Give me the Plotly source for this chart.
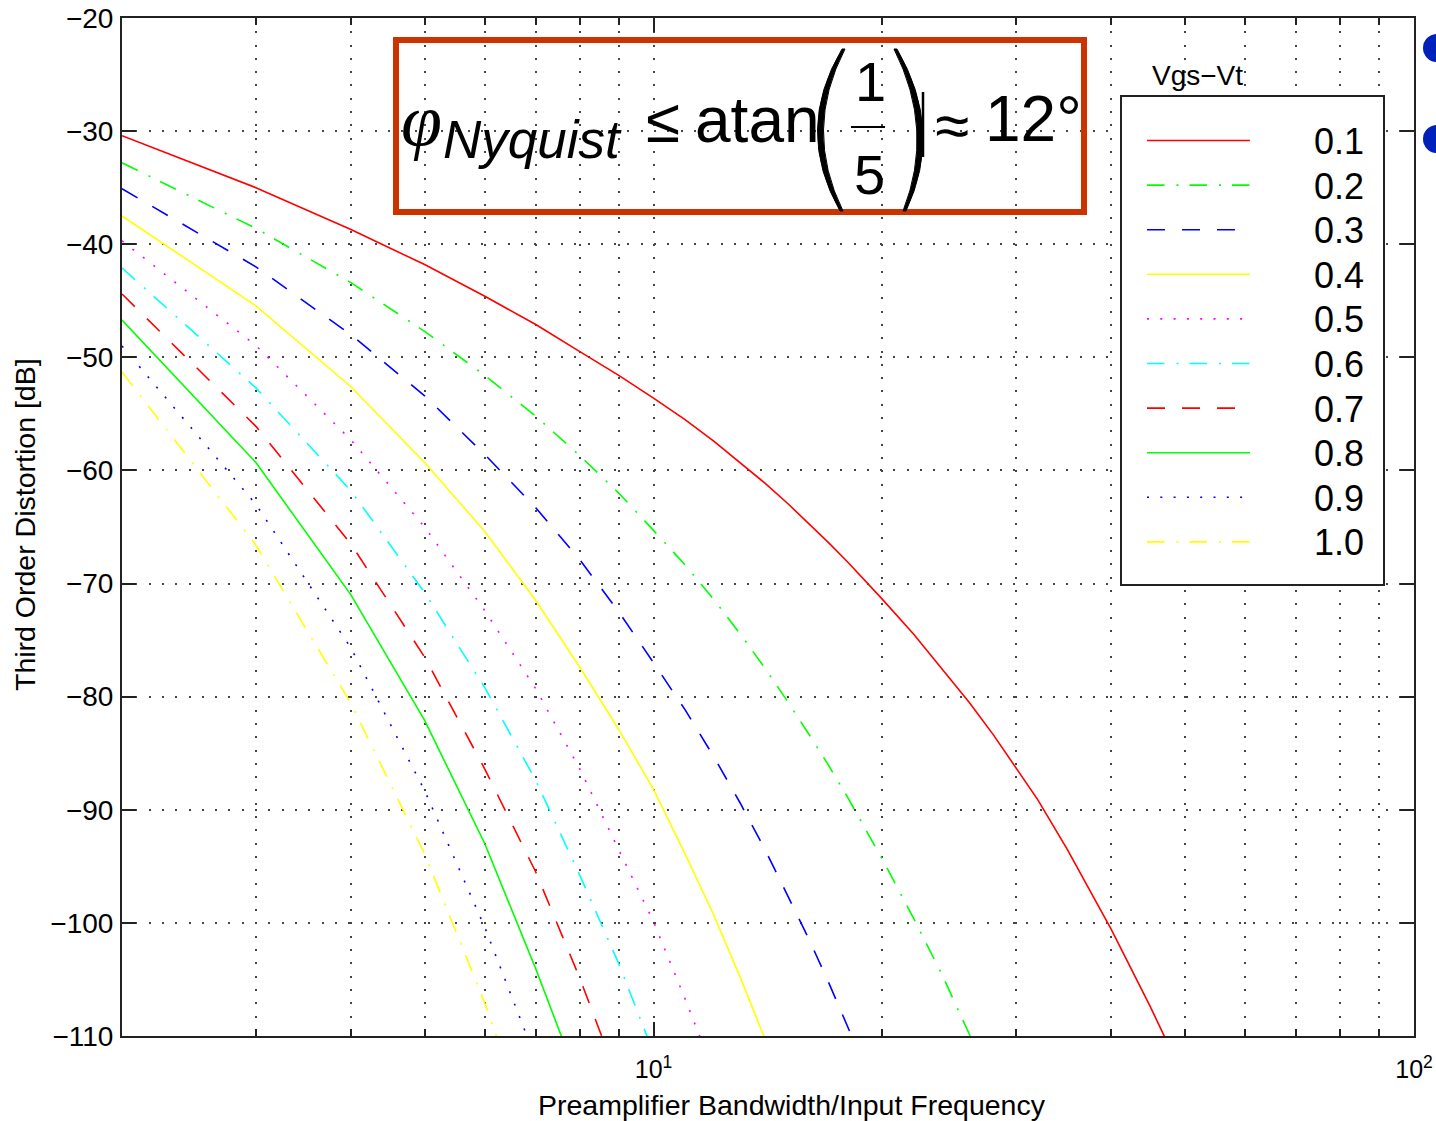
import plotly.graph_objects as go
import math

# ---------------- data ----------------
vgs_labels = ["0.1", "0.2", "0.3", "0.4", "0.5", "0.6", "0.7", "0.8", "0.9", "1.0"]

x_01 = [2, 3, 4, 5, 6, 7, 8, 9, 10, 11, 12, 13, 14, 15, 16, 17, 18, 19, 20,
        22, 24, 26, 28, 30, 32, 35, 40, 45, 50]
thd_01 = [-30.4, -35.0, -38.7, -41.8, -44.6, -47.1, -49.5, -51.6, -53.6,
          -55.5, -57.4, -59.3, -61.1, -62.9, -64.7, -66.4, -68.1, -69.8, -71.4,
          -74.5, -77.6, -80.5, -83.4, -86.3, -89.1, -93.5, -100.6, -107.4, -113.9]

x_02 = [2, 3, 4, 5, 6, 7, 8, 9, 10, 11, 12, 13, 14, 15, 16, 17, 18, 19, 20,
        22, 24, 26, 28]
thd_02 = [-32.8, -38.6, -43.4, -47.7, -51.6, -55.2, -58.7, -62.0, -65.3,
          -68.35, -71.4, -74.45, -77.45, -80.4, -83.3, -86.1, -88.9, -91.7, -94.4,
          -99.65, -104.7, -109.8, -114.5]

x_03 = [2, 3, 4, 5, 6, 7, 8, 9, 10, 11, 12, 13, 14, 15, 16, 17, 18, 19]
thd_03 = [-35.1, -42.0, -48.0, -53.4, -58.6, -63.3, -67.9, -72.5, -77.0,
          -81.15, -85.3, -89.4, -93.45, -97.5, -101.4, -105.3, -109.1, -112.85]

x_04 = [2, 3, 4, 5, 6, 7, 8, 9, 10, 11, 12, 13, 14, 15]
thd_04 = [-37.5, -45.45, -52.6, -59.3, -65.4, -71.5, -77.4, -82.9, -88.2,
          -93.9, -99.3, -104.8, -110.2, -115.3]

x_05 = [2, 3, 4, 5, 6, 7, 8, 9, 10, 11, 12]
thd_05 = [-39.7, -48.95, -57.3, -65.0, -72.4, -79.3, -86.4, -93.45, -99.9,
          -106.7, -113.2]

x_06 = [2, 3, 4, 5, 6, 7, 8, 9, 10]
thd_06 = [-42.1, -52.7, -61.8, -70.8, -79.2, -87.4, -95.8, -103.6, -111.5]

x_07 = [2, 3, 4, 5, 6, 7, 8, 9]
thd_07 = [-44.4, -56.1, -66.5, -76.5, -86.4, -95.5, -104.9, -114.0]

x_08 = [2, 3, 4, 5, 6, 7, 8]
thd_08 = [-46.7, -59.3, -71.0, -82.1, -93.0, -104.05, -114.3]

x_09 = [2, 3, 4, 5, 6, 7]
thd_09 = [-49.0, -63.0, -75.7, -88.3, -100.4, -112.0]

x_10 = [2, 3, 4, 5, 6, 7]
thd_10 = [-51.3, -66.6, -80.6, -93.9, -107.1, -120.0]

xs = [x_01, x_02, x_03, x_04, x_05, x_06, x_07, x_08, x_09, x_10]
series = [thd_01, thd_02, thd_03, thd_04, thd_05, thd_06, thd_07, thd_08, thd_09, thd_10]

x_major_ticks = [10, 100]
x_major_text = ["10<sup>1</sup>", "10<sup>2</sup>"]
x_minor_ticks = [3, 4, 5, 6, 7, 8, 9, 20, 30, 40, 50, 60, 70, 80, 90]

x_title = "Preamplifier Bandwidth/Input Frequency"
y_title = "Third Order Distortion [dB]"
legend_title = "Vgs\u2212Vt"

# ---------------- styles ----------------
colors = ["#FF0000", "#00FF00", "#0000FF", "#FFFF00", "#FF00FF",
          "#00FFFF", "#FF0000", "#00FF00", "#0000FF", "#FFFF00"]
DASH = "18px,17px"
DOT = "2px,11.3px"
DASHDOT = "17.5px,12px,2px,11px"
dashes = ["solid", DASHDOT, DASH, "solid", DOT, DASHDOT, DASH, "solid", DOT, DASHDOT]

FONT = "Liberation Sans, Arial, Helvetica, sans-serif"
W, H = 1436, 1121
L, R, T, B = 122, 1414, 18, 1036


def px(x):
    return (x - L) / (R - L)


def py(y):
    return (B - y) / (B - T)


fig = go.Figure()
for name, xv, ys, c, d in zip(vgs_labels, xs, series, colors, dashes):
    fig.add_trace(go.Scatter(
        x=xv, y=ys, mode="lines", name=name,
        line=dict(color=c, width=1.6, dash=d), showlegend=False,
    ))

grid_dash = "2px,11.3px"
fig.update_xaxes(
    type="log", range=[math.log10(2), 2], automargin=False,
    tickmode="array", tickvals=x_major_ticks, ticktext=x_major_text,
    ticks="inside", ticklen=14, tickwidth=1.5, tickcolor="#222",
    showline=True, linecolor="#222", linewidth=2, mirror="ticks",
    showgrid=True, gridcolor="#444", gridwidth=1.5, griddash=grid_dash,
    minor=dict(tickmode="array", tickvals=x_minor_ticks, ticks="inside", ticklen=7,
               tickwidth=1.5, tickcolor="#222", showgrid=True, gridcolor="#444",
               gridwidth=1.5, griddash=grid_dash),
    tickfont=dict(family=FONT, size=25, color="black"),
    ticklabelstandoff=10,
    zeroline=False,
)
fig.update_yaxes(
    range=[-110, -20], tick0=-20, dtick=10, automargin=False,
    ticks="inside", ticklen=14, tickwidth=1.5, tickcolor="#222",
    showline=True, linecolor="#222", linewidth=2, mirror="ticks",
    showgrid=True, gridcolor="#444", gridwidth=1.5, griddash=grid_dash,
    tickfont=dict(family=FONT, size=28, color="black"),
    ticklabelstandoff=1,
    zeroline=False,
)

shapes = []
annotations = []

# ---- axis titles (placed like the original, slightly off-centre) ----
annotations.append(dict(xref="paper", yref="paper", x=px(792), y=py(1105), text=x_title,
                        showarrow=False, xanchor="center", yanchor="middle",
                        font=dict(family=FONT, size=28.5, color="black")))
annotations.append(dict(xref="paper", yref="paper", x=px(25), y=py(525), text=y_title,
                        showarrow=False, xanchor="center", yanchor="middle", textangle=-90,
                        font=dict(family=FONT, size=28.5, color="black")))

# ---- manual legend ----
shapes.append(dict(type="rect", xref="paper", yref="paper",
                   x0=px(1121), x1=px(1384), y0=py(96), y1=py(585),
                   line=dict(color="#222", width=2), fillcolor="white", layer="above"))
for i, (name, c, d) in enumerate(zip(vgs_labels, colors, dashes)):
    yy = 140.5 + i * 44.6
    shapes.append(dict(type="line", xref="paper", yref="paper",
                       x0=px(1147), x1=px(1250), y0=py(yy), y1=py(yy),
                       line=dict(color=c, width=1.6, dash=d), layer="above"))
    annotations.append(dict(xref="paper", yref="paper", x=px(1366), y=py(yy + 1),
                            text=name, showarrow=False, xanchor="right", yanchor="middle",
                            font=dict(family=FONT, size=36, color="black")))
annotations.append(dict(xref="paper", yref="paper", x=px(1197), y=py(76),
                        text=legend_title, showarrow=False, xanchor="center", yanchor="middle",
                        font=dict(family=FONT, size=28, color="black")))

# ---- formula box ----
shapes.append(dict(type="rect", xref="paper", yref="paper",
                   x0=px(396), x1=px(1084), y0=py(40), y1=py(212),
                   line=dict(color="#CC3300", width=6), layer="above"))


def txt(x, y, s, size, anchor="left", family=FONT):
    annotations.append(dict(xref="paper", yref="paper", x=px(x), y=py(y), text=s,
                            showarrow=False, xanchor=anchor, yanchor="middle",
                            font=dict(family=family, size=size, color="black")))


txt(399, 120, "<i>\u03c6</i>", 74, family="Liberation Serif, Times New Roman, serif")
txt(441, 139, "<i>Nyquist</i>", 53)
txt(663, 120, "\u2264", 62, anchor="center")
txt(693, 120, "atan", 64)
txt(870, 81, "1", 56, anchor="center")
txt(869, 174, "5", 56, anchor="center")
txt(952, 125, "\u2248", 62, anchor="center")
txt(983, 119, "12\u00b0", 64)

# fraction bar
shapes.append(dict(type="line", xref="paper", yref="paper",
                   x0=px(851), x1=px(885), y0=py(127), y1=py(127),
                   line=dict(color="black", width=2), layer="above"))


def paren_path(pts_outer, pts_inner):
    (a0, a1, a2), (b0, b1, b2) = pts_outer, pts_inner
    p = lambda q: f"{px(q[0]):.5f},{py(q[1]):.5f}"
    return f"M {p(a0)} Q {p(a1)} {p(a2)} L {p(b2)} Q {p(b1)} {p(b0)} Z"


shapes.append(dict(type="path", xref="paper", yref="paper", layer="above",
                   path=paren_path(((842, 49), (794, 130), (840, 211)),
                                   ((845, 49), (803, 130), (843, 211))),
                   fillcolor="black", line=dict(color="black", width=1)))
shapes.append(dict(type="path", xref="paper", yref="paper", layer="above",
                   path=paren_path(((897, 49), (944, 130), (906, 211)),
                                   ((894, 49), (935, 130), (903, 211))),
                   fillcolor="black", line=dict(color="black", width=1)))
shapes.append(dict(type="line", xref="paper", yref="paper", layer="above",
                   x0=px(923), x1=px(923), y0=py(92), y1=py(157),
                   line=dict(color="black", width=2.5)))

# ---- partial bullets at the right edge ----
for cy in (48, 139):
    shapes.append(dict(type="circle", xref="paper", yref="paper",
                       x0=px(1423), x1=px(1451), y0=py(cy + 14), y1=py(cy - 14),
                       fillcolor="#0022BB", line=dict(width=0), layer="above"))

fig.update_layout(
    width=W, height=H,
    margin=dict(l=L, r=W - R, t=T, b=H - B),
    paper_bgcolor="white", plot_bgcolor="white",
    showlegend=False,
    shapes=shapes, annotations=annotations,
    font=dict(family=FONT, color="black"),
)

fig.write_html("out.html")
